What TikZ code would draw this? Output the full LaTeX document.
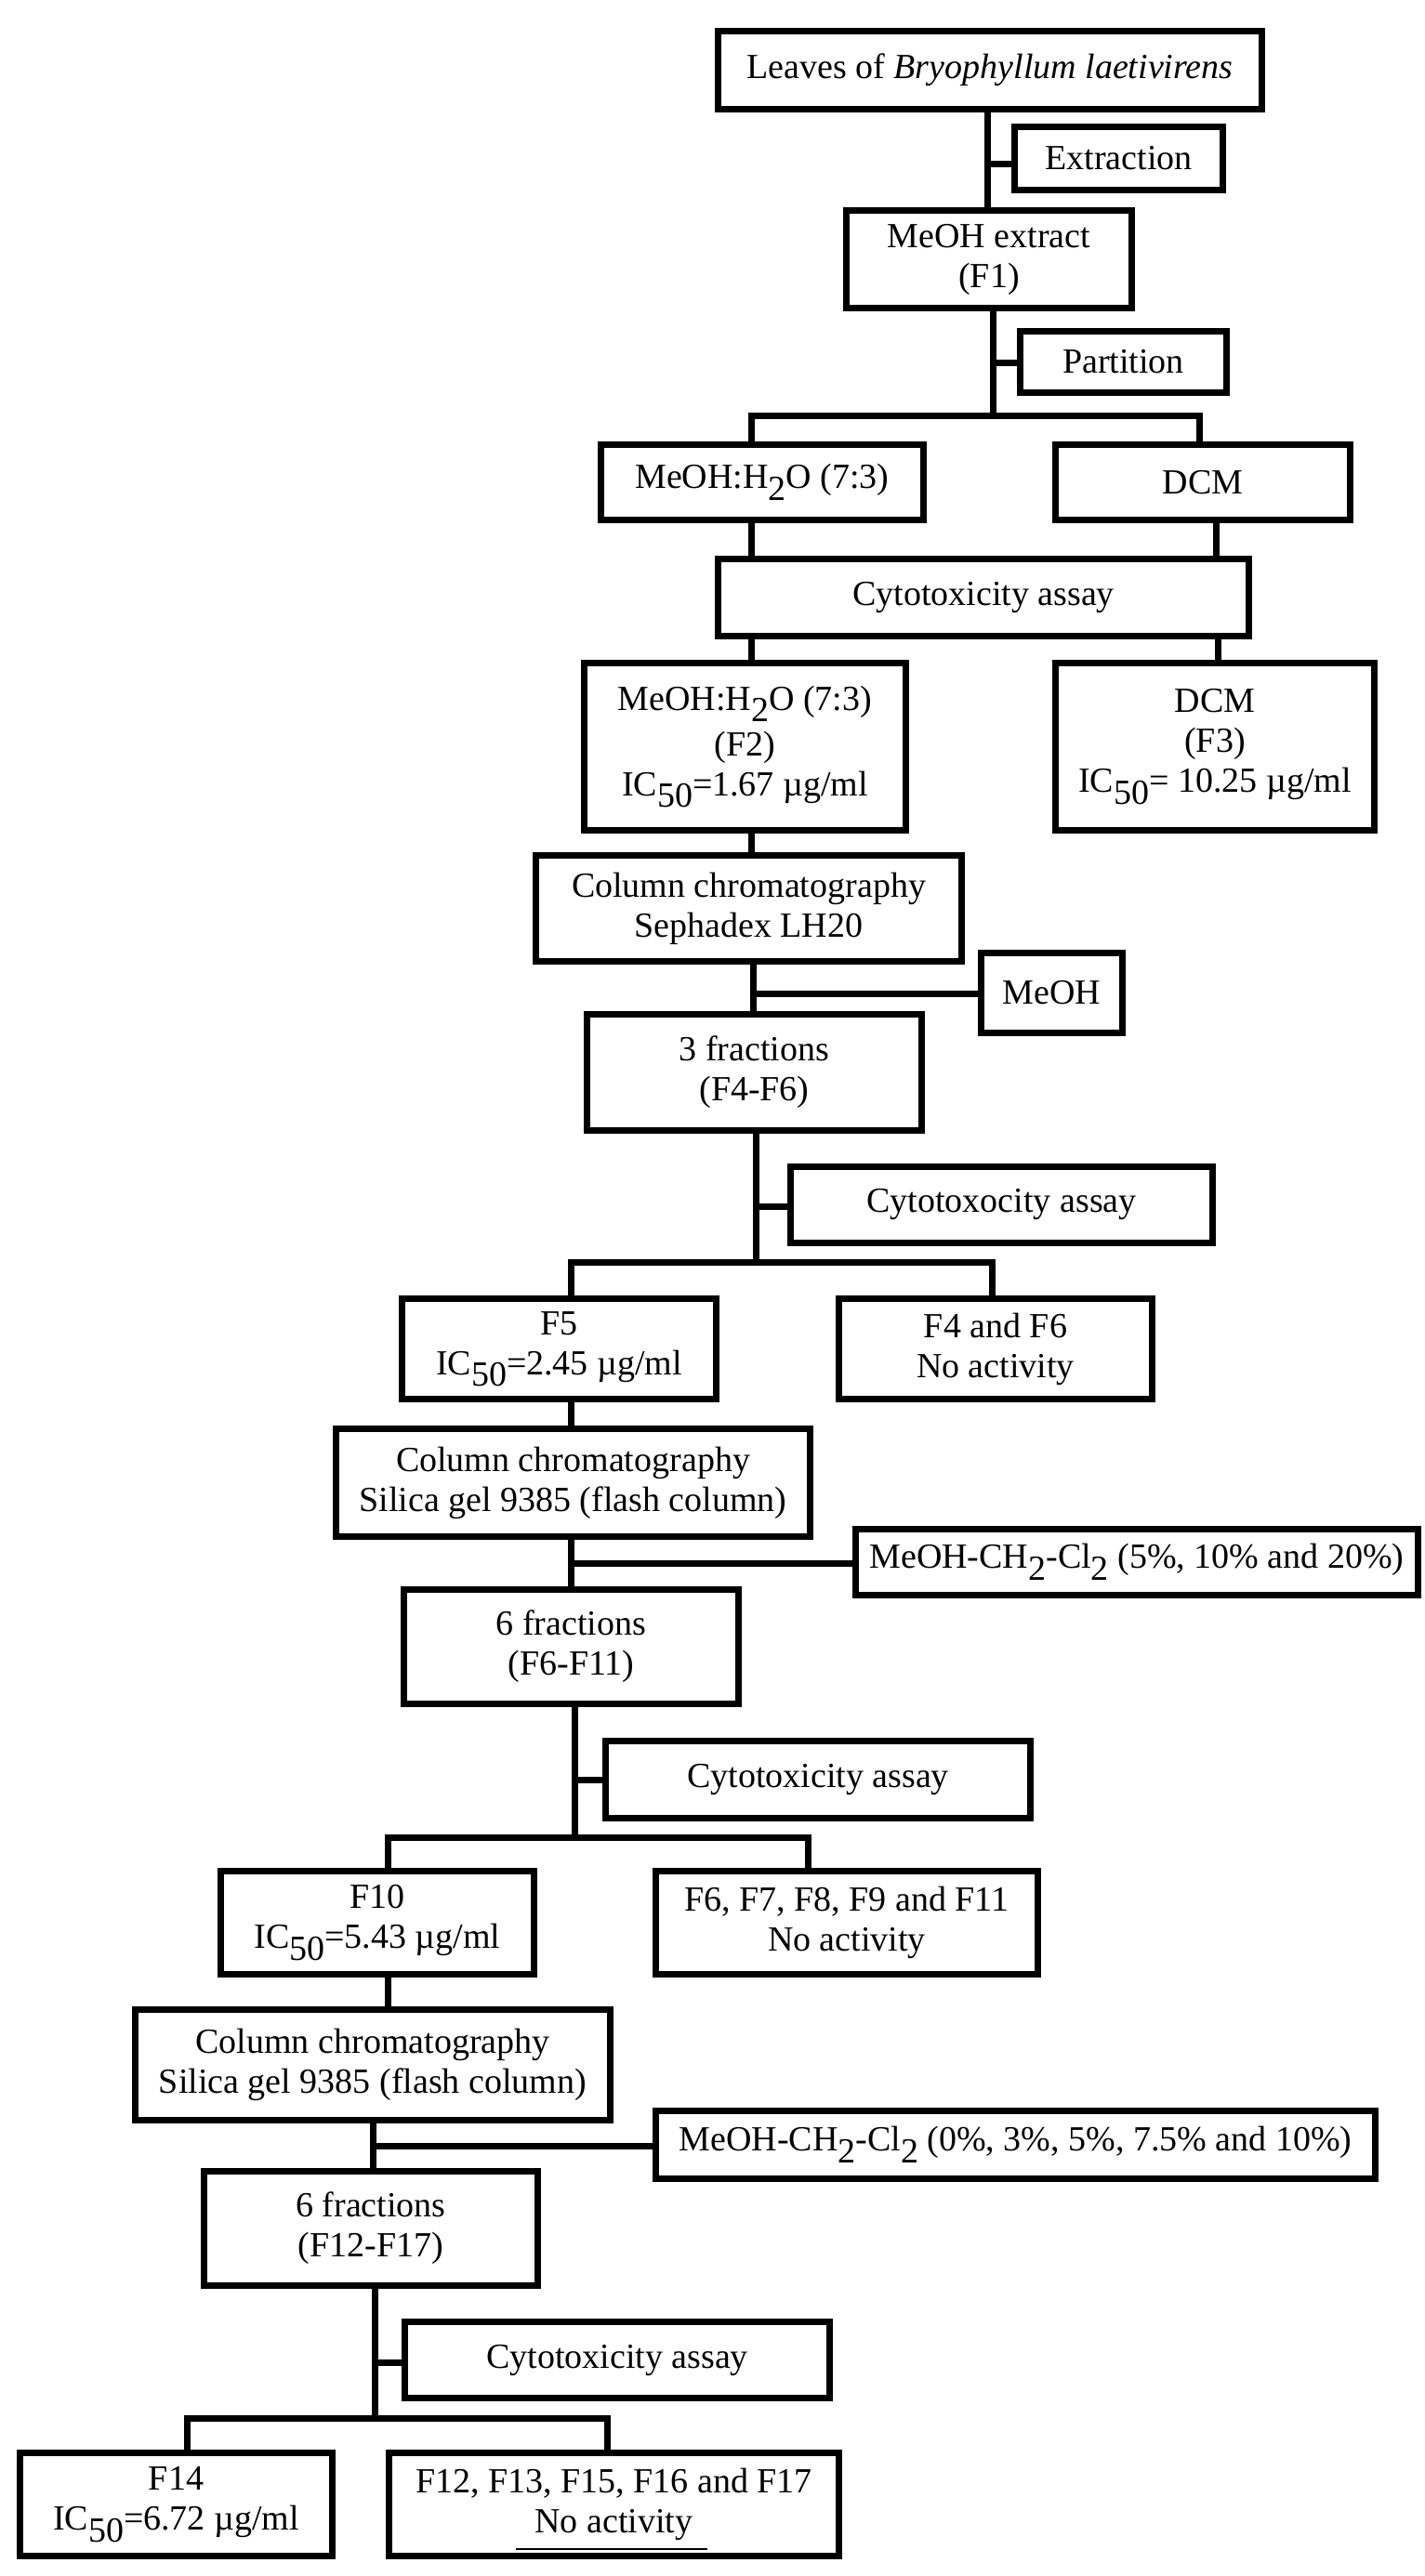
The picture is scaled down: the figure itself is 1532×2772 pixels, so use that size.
\documentclass[tikz,border=0pt]{standalone}
\usepackage{fontspec}
\setmainfont{Liberation Serif}
\newcommand\sbs[1]{\raisebox{-0.33em}{#1}}
\begin{document}
\begin{tikzpicture}[x=0.5pt,y=-0.5pt,
  box/.style={draw, line width=3.5pt, inner sep=0pt, align=center, fill=white,
              font=\fontsize{19}{21.5}\selectfont},
  conn/.style={line width=3.5pt, line cap=rect}]
\fill[white] (0,0) rectangle (1532,2772);
\useasboundingbox (0,0) rectangle (1532,2772);
% boxes
\node[box,minimum width=292.5pt,minimum height=42pt] (leaves) at (1065,75.5) {Leaves of \textit{Bryophyllum laetivirens}};
\node[box,minimum width=112pt,minimum height=34pt] (extr) at (1203.5,170.5) {Extraction};
\node[box,minimum width=153.5pt,minimum height=52.5pt] (f1) at (1064,279) {MeOH extract\\(F1)};
\node[box,minimum width=111pt,minimum height=33pt] (part) at (1208.5,389.5) {Partition};
\node[box,minimum width=173.5pt,minimum height=40.5pt] (mw1) at (820,519) {MeOH:H\sbs{2}O (7:3)};
\node[box,minimum width=158.5pt,minimum height=40.5pt] (dcm1) at (1294,519) {DCM};
\node[box,minimum width=285.5pt,minimum height=41.5pt] (cyto1) at (1058,643) {Cytotoxicity assay};
\node[box,minimum width=173pt,minimum height=90pt] (f2) at (801.5,803.5) {MeOH:H\sbs{2}O (7:3)\\[3pt](F2)\\IC\sbs{50}=1.67 µg/ml};
\node[box,minimum width=171.5pt,minimum height=90pt] (f3) at (1307,803.5) {DCM\\(F3)\\IC\sbs{50}= 10.25 µg/ml};
\node[box,minimum width=229pt,minimum height=57pt] (col1) at (805.5,977.5) {Column chromatography\\Sephadex LH20};
\node[box,minimum width=76pt,minimum height=43pt] (meoh) at (1131.5,1068.5) {MeOH};
\node[box,minimum width=180pt,minimum height=62.5pt] (fr3) at (811.5,1154) {3 fractions\\(F4-F6)};
\node[box,minimum width=227pt,minimum height=41pt] (cyto2) at (1077.5,1296.5) {Cytotoxocity assay};
\node[box,minimum width=169pt,minimum height=54pt] (f5) at (601.5,1451.5) {F5\\IC\sbs{50}=2.45 µg/ml};
\node[box,minimum width=168.5pt,minimum height=54pt] (f46) at (1071,1451.5) {F4 and F6\\No activity};
\node[box,minimum width=255pt,minimum height=58pt] (col2) at (616.5,1595.5) {Column chromatography\\Silica gel 9385 (flash column)};
\node[box,minimum width=302.5pt,minimum height=35.5pt] (mcc1) at (1223,1681) {MeOH-CH\sbs{2}-Cl\sbs{2} (5\%, 10\% and 20\%)};
\node[box,minimum width=180pt,minimum height=61.5pt] (fr6) at (614.5,1772) {6 fractions\\(F6-F11)};
\node[box,minimum width=228.5pt,minimum height=41.5pt] (cyto3) at (880,1915) {Cytotoxicity assay};
\node[box,minimum width=168.5pt,minimum height=55.5pt] (f10) at (406,2069) {F10\\IC\sbs{50}=5.43 µg/ml};
\node[box,minimum width=205.5pt,minimum height=55.5pt] (f611) at (911,2069) {F6, F7, F8, F9 and F11\\No activity};
\node[box,minimum width=255.5pt,minimum height=59.5pt] (col3) at (401,2222) {Column chromatography\\Silica gel 9385 (flash column)};
\node[box,minimum width=387pt,minimum height=36.5pt] (mcc2) at (1092.5,2308) {MeOH-CH\sbs{2}-Cl\sbs{2} (0\%, 3\%, 5\%, 7.5\% and 10\%)};
\node[box,minimum width=179.5pt,minimum height=61.5pt] (fr6b) at (399,2398) {6 fractions\\(F12-F17)};
\node[box,minimum width=228.5pt,minimum height=41pt] (cyto4) at (664,2539.5) {Cytotoxicity assay};
\node[box,minimum width=168pt,minimum height=55.5pt] (f14) at (189.5,2695) {F14\\IC\sbs{50}=6.72 µg/ml};
\node[box,minimum width=242pt,minimum height=55.5pt] (f1217) at (660.5,2695) {F12, F13, F15, F16 and F17\\No activity};
% connectors
\coordinate (t1) at (1062,177);
\draw[conn] (leaves.south -| t1) -- (f1.north -| t1);
\draw[conn] (t1) -- (t1 -| extr.west);
\coordinate (t2) at (1068,390);
\coordinate (b1) at (1068,447);
\draw[conn] (f1.south -| t2) -- (b1);
\draw[conn] (t2) -- (t2 -| part.west);
\coordinate (b1l) at (808,447);
\coordinate (b1r) at (1290,447);
\draw[conn] (mw1.north -| b1l) -- (b1l) -- (b1r) -- (dcm1.north -| b1r);
\coordinate (v1) at (808,0);
\coordinate (v2) at (1308,0);
\coordinate (v3) at (1310,0);
\draw[conn] (mw1.south -| v1) -- (cyto1.north -| v1);
\draw[conn] (dcm1.south -| v2) -- (cyto1.north -| v2);
\draw[conn] (cyto1.south -| v1) -- (f2.north -| v1);
\draw[conn] (cyto1.south -| v3) -- (f3.north -| v3);
\draw[conn] (f2.south -| v1) -- (col1.north -| v1);
\coordinate (t3) at (810,1069);
\draw[conn] (col1.south -| t3) -- (fr3.north -| t3);
\draw[conn] (t3) -- (t3 -| meoh.west);
\coordinate (t4) at (813,1298);
\coordinate (b2) at (813,1358);
\draw[conn] (fr3.south -| t4) -- (b2);
\draw[conn] (t4) -- (t4 -| cyto2.west);
\coordinate (b2l) at (614,1358);
\coordinate (b2r) at (1067,1358);
\draw[conn] (f5.north -| b2l) -- (b2l) -- (b2r) -- (f46.north -| b2r);
\draw[conn] (f5.south -| b2l) -- (col2.north -| b2l);
\coordinate (t5) at (614,1682);
\draw[conn] (col2.south -| t5) -- (fr6.north -| t5);
\draw[conn] (t5) -- (t5 -| mcc1.west);
\coordinate (t6) at (618,1915);
\coordinate (b3) at (618,1977);
\draw[conn] (fr6.south -| t6) -- (b3);
\draw[conn] (t6) -- (t6 -| cyto3.west);
\coordinate (b3l) at (417,1977);
\coordinate (b3r) at (869,1977);
\draw[conn] (f10.north -| b3l) -- (b3l) -- (b3r) -- (f611.north -| b3r);
\draw[conn] (f10.south -| b3l) -- (col3.north -| b3l);
\coordinate (t7) at (401,2309);
\draw[conn] (col3.south -| t7) -- (fr6b.north -| t7);
\draw[conn] (t7) -- (t7 -| mcc2.west);
\coordinate (t8) at (403,2542);
\coordinate (b4) at (403,2602);
\draw[conn] (fr6b.south -| t8) -- (b4);
\draw[conn] (t8) -- (t8 -| cyto4.west);
\coordinate (b4l) at (201,2602);
\coordinate (b4r) at (653,2602);
\draw[conn] (f14.north -| b4l) -- (b4l) -- (b4r) -- (f1217.north -| b4r);
% thin rule under the last "No activity"
\coordinate (u1) at (555,2743);
\coordinate (u2) at (761,2743);
\draw[line width=1pt] (u1) -- (u2);
\end{tikzpicture}
\end{document}
